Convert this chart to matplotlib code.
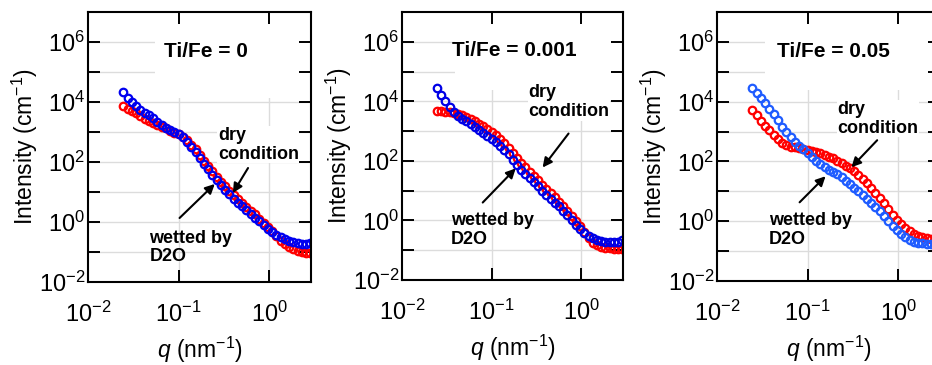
import matplotlib
matplotlib.use("Agg")
import matplotlib.pyplot as plt
from matplotlib.patches import Rectangle
import numpy as np

plt.rcParams['font.family'] = 'Liberation Sans'
plt.rcParams['mathtext.fontset'] = 'custom'
plt.rcParams['mathtext.rm'] = 'Liberation Sans'
plt.rcParams['mathtext.it'] = 'Liberation Sans:italic'
plt.rcParams['mathtext.bf'] = 'Liberation Sans:bold'

# scattering vector q (nm^-1), shared by all curves
q = [0.0245, 0.0274, 0.0305, 0.0340, 0.0378, 0.0422, 0.0469, 0.0523, 0.0582,
     0.0649, 0.0723, 0.0805, 0.0897, 0.100, 0.111, 0.124, 0.138, 0.154, 0.171,
     0.191, 0.213, 0.237, 0.264, 0.294, 0.328, 0.365, 0.407, 0.453, 0.505,
     0.562, 0.626, 0.698, 0.778, 0.867, 0.966, 1.08, 1.20, 1.34, 1.49, 1.66,
     1.85, 2.06, 2.29, 2.55, 2.84]

# log10 intensity (cm^-1)
logI_dry_0 = [3.87, 3.78, 3.70, 3.62, 3.52, 3.45, 3.38, 3.30, 3.23, 3.17,
              3.12, 3.05, 2.98, 2.92, 2.82, 2.72, 2.58, 2.42, 2.22, 2.05,
              1.88, 1.70, 1.50, 1.35, 1.20, 1.05, 0.90, 0.77, 0.63, 0.50,
              0.38, 0.28, 0.10, -0.03, -0.17, -0.30, -0.47, -0.62, -0.73, -0.82,
              -0.90, -0.95, -1.00, -1.02, -1.03]
logI_wet_0 = [4.35, 4.15, 4.00, 3.87, 3.75, 3.65, 3.57, 3.48, 3.35, 3.25,
              3.15, 3.07, 3.00, 2.93, 2.85, 2.68, 2.50, 2.32, 2.12, 1.95,
              1.78, 1.58, 1.40, 1.22, 1.07, 0.93, 0.78, 0.65, 0.52, 0.40,
              0.28, 0.15, 0.03, -0.10, -0.22, -0.33, -0.43, -0.50, -0.57, -0.62,
              -0.66, -0.70, -0.72, -0.72, -0.70]

logI_dry_001 = [3.67, 3.67, 3.66, 3.65, 3.62, 3.58, 3.53, 3.47, 3.40, 3.33,
                3.25, 3.17, 3.07, 2.97, 2.86, 2.74, 2.60, 2.45, 2.28, 2.10,
                1.93, 1.78, 1.62, 1.48, 1.35, 1.20, 1.05, 0.92, 0.78, 0.63,
                0.48, 0.32, 0.15, -0.02, -0.18, -0.40, -0.60, -0.75, -0.83, -0.88,
                -0.92, -0.94, -0.96, -0.97, -0.97]
logI_wet_001 = [4.45, 4.20, 4.00, 3.80, 3.63, 3.50, 3.40, 3.33, 3.25, 3.15,
                3.05, 2.95, 2.85, 2.75, 2.63, 2.50, 2.38, 2.22, 2.03, 1.85,
                1.68, 1.55, 1.42, 1.28, 1.15, 1.00, 0.85, 0.72, 0.60, 0.47,
                0.33, 0.18, 0.02, -0.15, -0.30, -0.42, -0.52, -0.60, -0.66, -0.70,
                -0.73, -0.74, -0.74, -0.72, -0.66]

logI_dry_05 = [3.71, 3.55, 3.37, 3.20, 3.05, 2.90, 2.75, 2.62, 2.55, 2.50,
               2.47, 2.44, 2.41, 2.38, 2.35, 2.31, 2.27, 2.22, 2.16, 2.10,
               2.03, 1.95, 1.86, 1.77, 1.67, 1.55, 1.42, 1.28, 1.12, 0.95,
               0.78, 0.62, 0.42, 0.22, 0.05, -0.10, -0.23, -0.33, -0.42, -0.48,
               -0.53, -0.56, -0.60, -0.62, -0.64]
logI_wet_05 = [4.47, 4.30, 4.12, 3.95, 3.77, 3.60, 3.38, 3.15, 2.98, 2.82,
               2.66, 2.52, 2.40, 2.27, 2.15, 2.03, 1.90, 1.80, 1.72, 1.65,
               1.58, 1.47, 1.36, 1.24, 1.12, 1.00, 0.88, 0.75, 0.62, 0.48,
               0.33, 0.16, 0.00, -0.15, -0.30, -0.43, -0.53, -0.62, -0.68, -0.72,
               -0.74, -0.75, -0.76, -0.76, -0.75]

titles = ['Ti/Fe = 0', 'Ti/Fe = 0.001', 'Ti/Fe = 0.05']
dry = [logI_dry_0, logI_dry_001, logI_dry_05]
wet = [logI_wet_0, logI_wet_001, logI_wet_05]
blues = ['#0000f0', '#0000e6', '#1f5cff']

# annotation anchors (q, I): text position, arrow tail, arrow head
dry_text = [(0.271, 10**2.58), (0.258, 10**3.98), (0.214, 10**3.43)]
dry_tail = [(0.585, 63), (0.718, 832), (0.587, 513)]
dry_head = [(0.398, 9.3), (0.369, 60), (0.305, 64)]
wet_text = [(0.0476, 10**-0.85), (0.035, 10**-0.336), (0.0372, 10**-0.30)]
wet_tail = [(0.1026, 1.36), (0.0794, 4.0), (0.0817, 4.3)]
wet_head = [(0.251, 18.5), (0.185, 56), (0.158, 32)]

title_x = [0.53, 0.51, 0.52]
white_box = [(0.30, 0.68), (0.24, 0.71), (0.215, 0.71)]
axes_rects = [[0.0944, 0.2274, 0.2393, 0.7397],
              [0.4313, 0.2329, 0.2371, 0.7340],
              [0.7693, 0.2301, 0.2393, 0.7370]]

fig = plt.figure(figsize=(9.32, 3.65), dpi=100)

for k in range(3):
    ax = fig.add_axes(axes_rects[k])
    ax.set_xscale('log')
    ax.set_yscale('log')
    ax.set_xlim(0.01, 2.9)
    ax.set_ylim(1e-2, 1e7)

    # light grid, partly hidden behind the white label area
    for e in range(-1, 1):
        ax.axvline(10.0**e, color='#dcdcdc', lw=1, zorder=0.5)
    for e in range(-1, 7):
        ax.axhline(10.0**e, color='#dcdcdc', lw=1, zorder=0.5)
    ax.add_patch(Rectangle(white_box[k], 1 - white_box[k][0], 1 - white_box[k][1],
                           transform=ax.transAxes, facecolor='white',
                           edgecolor='none', zorder=0.6))

    qq = np.array(q)
    ax.plot(qq, 10**np.array(dry[k]), 'o', mfc='none', mec='#ff0000',
            ms=5.4, mew=1.6, zorder=2)
    ax.plot(qq, 10**np.array(wet[k]), 'o', mfc='none', mec=blues[k],
            ms=5.4, mew=1.6, zorder=2.1)

    ax.set_xticks([0.01, 0.1, 1])
    ax.set_xticklabels([r'$10^{-2}$', r'$10^{-1}$', r'$10^{0}$'])
    yt = 10.0**np.arange(-2, 7)
    ax.set_yticks(yt)
    ax.set_yticklabels([r'$10^{%d}$' % e if e % 2 == 0 else ''
                        for e in range(-2, 7)])
    ax.minorticks_off()
    ax.tick_params(direction='in', length=8.5, width=1.4, labelsize=17,
                   top=True, right=True)
    ax.tick_params(axis='x', pad=14)
    ax.tick_params(axis='y', pad=2)
    for s in ax.spines.values():
        s.set_linewidth(1.5)

    ax.set_xlabel(r'$q$ (nm$^{-1}$)', fontsize=16.5, labelpad=6)
    ax.set_ylabel(r'Intensity (cm$^{-1}$)', fontsize=16.5, labelpad=-1)

    ax.text(title_x[k], 0.855, titles[k], transform=ax.transAxes,
            ha='center', va='center', fontsize=15, fontweight='bold', zorder=3)

    ax.text(dry_text[k][0], dry_text[k][1], 'dry\ncondition', ha='left',
            va='center', fontsize=13, fontweight='bold', linespacing=1.15,
            bbox=dict(facecolor='white', edgecolor='none', pad=0.5), zorder=1)
    ax.text(wet_text[k][0], wet_text[k][1], 'wetted by\nD2O', ha='left',
            va='center', fontsize=13, fontweight='bold', linespacing=1.15,
            zorder=3)
    ax.annotate('', xy=dry_head[k], xytext=dry_tail[k],
                arrowprops=dict(arrowstyle='-|>', color='black', lw=1.5,
                                mutation_scale=14, shrinkA=0, shrinkB=0),
                zorder=3)
    ax.annotate('', xy=wet_head[k], xytext=wet_tail[k],
                arrowprops=dict(arrowstyle='-|>', color='black', lw=1.5,
                                mutation_scale=14, shrinkA=0, shrinkB=0),
                zorder=3)

fig.savefig('out.png', dpi=100)
